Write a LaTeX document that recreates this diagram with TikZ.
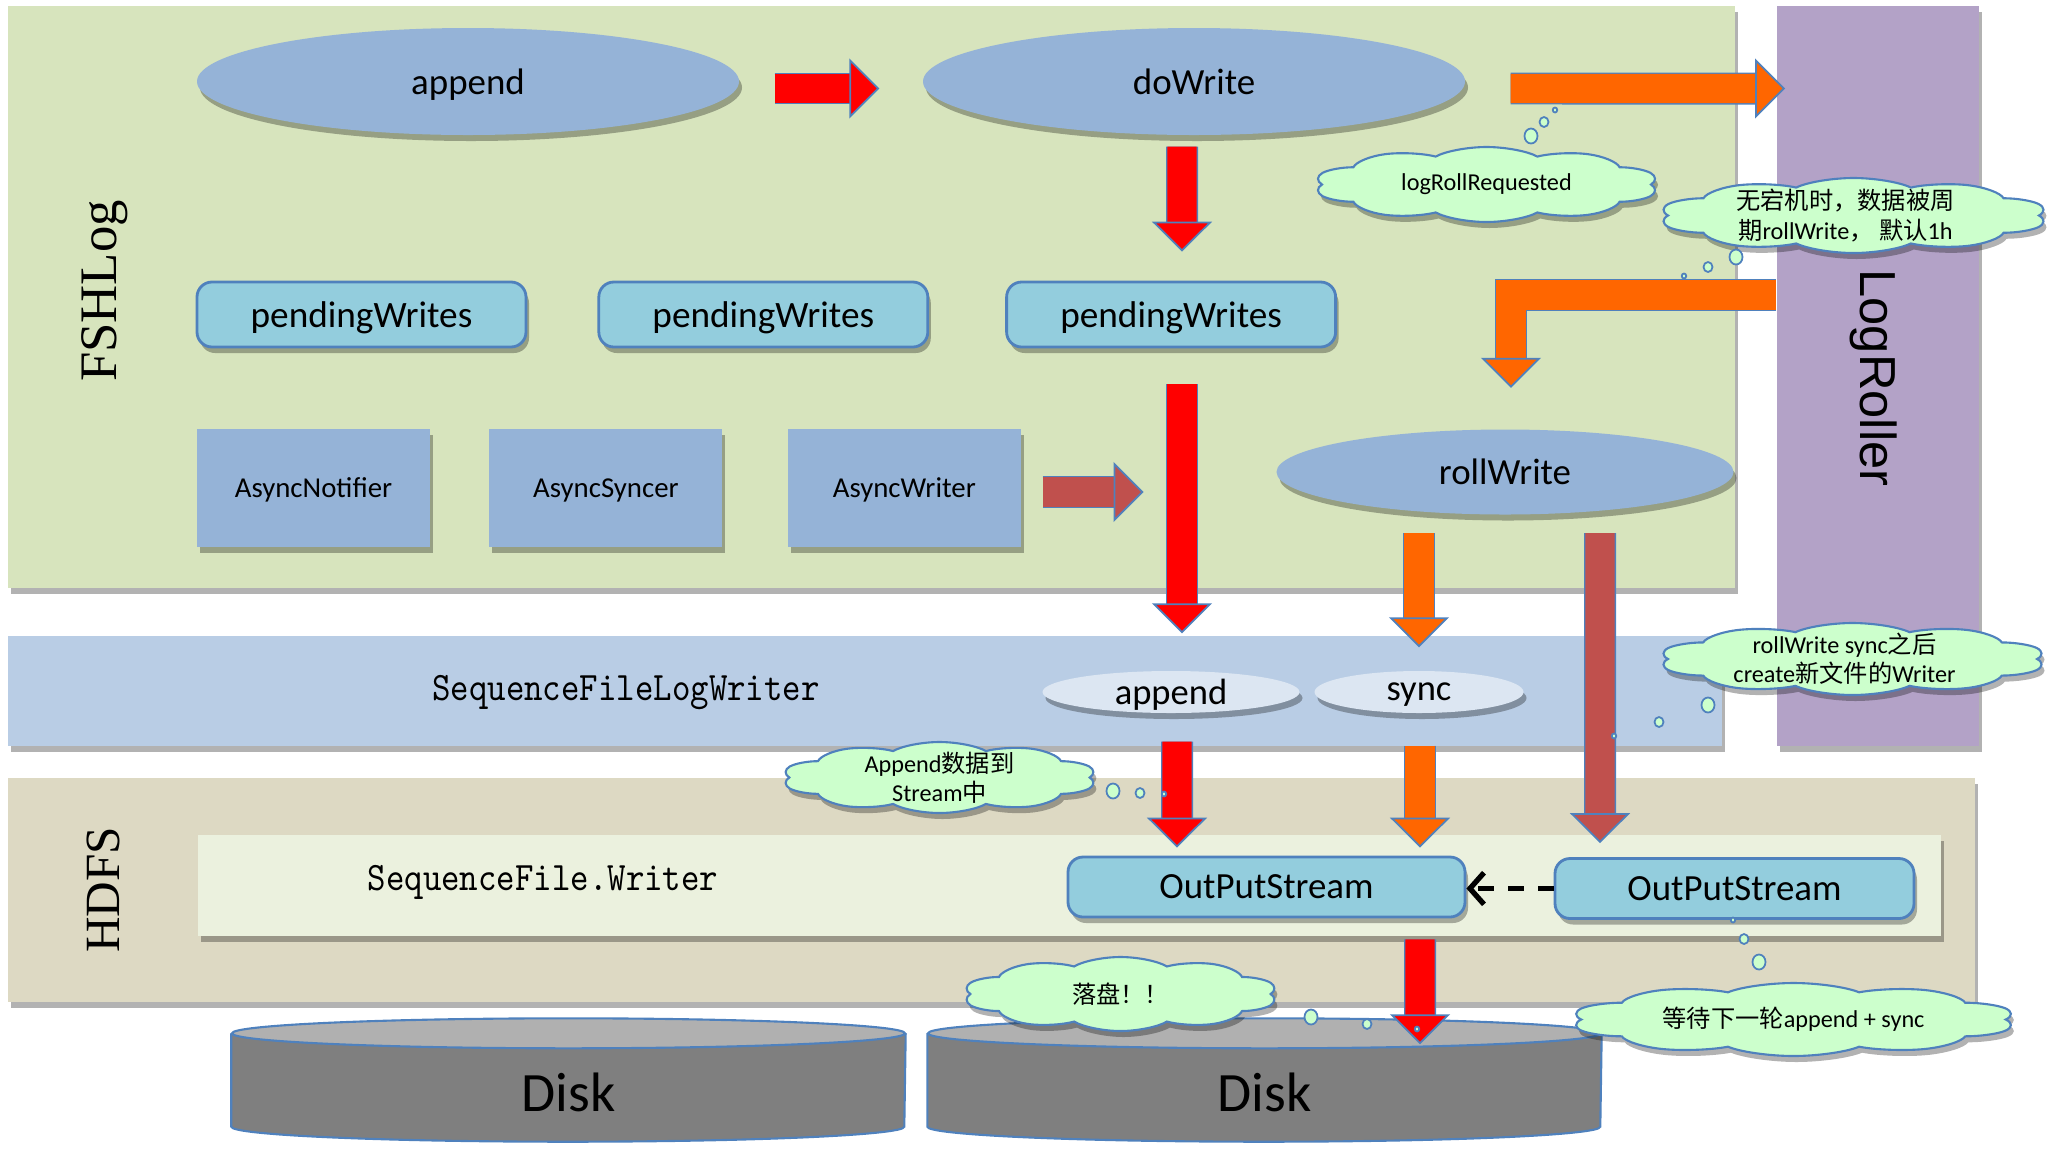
\documentclass[tikz,border=0pt]{standalone}
\usepackage{fontspec}
\setmainfont{Carlito}
\newfontfamily\cjk{Noto Sans CJK SC}
\newfontfamily\serifx{Liberation Serif}
\newfontfamily\arialx{Liberation Sans}
\usetikzlibrary{shapes,shapes.geometric,shapes.symbols,arrows.meta,positioning,calc,shadows}

\definecolor{fshgreen}{HTML}{D7E4BD}
\definecolor{rollpurple}{HTML}{B3A2C7}
\definecolor{seqblue}{HTML}{B9CDE5}
\definecolor{hdfstan}{HTML}{DDD9C3}
\definecolor{writerbg}{HTML}{EBF1DE}
\definecolor{ovalblue}{HTML}{95B3D7}
\definecolor{smallblue}{HTML}{DCE6F2}
\definecolor{queuefill}{HTML}{93CDDD}
\definecolor{edgeblue}{HTML}{4F81BD}
\definecolor{notegreen}{HTML}{CCFFCC}
\definecolor{arrred}{HTML}{FF0000}
\definecolor{arrorange}{HTML}{FF6600}
\definecolor{arrbrown}{HTML}{C0504D}
\definecolor{diskbody}{HTML}{7F7F7F}
\definecolor{disktop}{HTML}{B0B0B0}

\tikzset{
  shadowed/.style={drop shadow={shadow xshift=0.3mm, shadow yshift=-0.6mm, opacity=0.3, fill=black}},
  band/.style={rectangle, inner sep=0, anchor=north west, shadowed},
  oval/.style={ellipse, fill=ovalblue, inner sep=0, text depth=0pt, minimum width=5.42cm, minimum height=1.07cm, font=\fontsize{10.5}{12}\selectfont, shadowed},
  queue/.style={rectangle, rounded corners=1.5mm, draw=edgeblue, line width=0.8pt, fill=queuefill, inner sep=0, text depth=0pt, minimum width=3.29cm, minimum height=0.65cm, font=\fontsize{10.6}{12}\selectfont, shadowed},
  worker/.style={rectangle, fill=ovalblue, inner sep=0, text depth=0pt, minimum width=2.33cm, minimum height=1.18cm, font=\fontsize{8.2}{10}\selectfont, shadowed},
  smalloval/.style={ellipse, fill=smallblue, inner sep=0, text depth=0pt, minimum height=0.42cm, font=\fontsize{10.4}{12}\selectfont, shadowed},
  stream/.style={rectangle, rounded corners=1.5mm, draw=edgeblue, line width=0.8pt, fill=queuefill, inner sep=0, text depth=0pt, minimum height=0.6cm, font=\fontsize{10.5}{12}\selectfont, shadowed},
  disk/.style={rectangle, inner sep=0, minimum width=6.73cm, minimum height=0.92cm},
  disktext/.style={font=\fontsize{15.8}{18}\selectfont},
  note/.style={cloud, cloud puffs=10, cloud puff arc=120, cloud ignores aspect, draw=edgeblue, line width=0.6pt, fill=notegreen, inner sep=0, minimum width=1.5cm, minimum height=1cm, transform shape, shadowed},
  notetext/.style={align=center, font=\fontsize{6.9}{8.3}\selectfont},
  bubble/.style={ellipse, draw=edgeblue, line width=0.5pt, fill=notegreen, inner sep=0},
  blockarrow/.style={draw=#1, line width=8.3pt, -{Triangle[length=8.5pt, width=17pt, fill=#1, color=edgeblue, line width=0.5pt]}, preaction={draw=edgeblue, line width=9.1pt, arrows=-, shorten >=7pt}},
}

\begin{document}
\begin{tikzpicture}
\useasboundingbox (0,0) rectangle (20.55,-11.54);

% 背景层
\node[band, fill=fshgreen, minimum width=17.27cm, minimum height=5.82cm] (fshlog) at (0.07,-0.05) {};
\node[band, fill=rollpurple, minimum width=2.02cm, minimum height=7.40cm] (roller) at (17.76,-0.05) {};
\node[band, fill=seqblue, minimum width=17.14cm, minimum height=1.10cm] (seqwriter) at (0.07,-6.35) {};
\node[band, fill=hdfstan, minimum width=19.67cm, minimum height=2.24cm] (hdfs) at (0.07,-7.77) {};
\node[band, fill=writerbg, minimum width=17.43cm, minimum height=1.01cm] (seqfile) at (1.97,-8.34) {};

% 层名
\node[rotate=90, font=\serifx\fontsize{15}{18}\selectfont] (fshlabel) at (1.05,-2.91) {FSHLog};
\node[rotate=90, font=\serifx\fontsize{14}{17}\selectfont] (hdfslabel) at (1.03,-8.90) {HDFS};
\node[rotate=-90, font=\arialx\fontsize{14.4}{17}\selectfont] (rollerlabel) at (18.74,-3.78) {LogRoller};
\node[font=\ttfamily\fontsize{10}{12}\selectfont] (seqwriterlabel) at (6.26,-6.93) {\scalebox{1}[1.15]{SequenceFileLogWriter}};
\node[font=\ttfamily\fontsize{10}{12}\selectfont] (seqfilelabel) at (5.43,-8.82) {\scalebox{1}[1.15]{SequenceFile.Writer}};

% FSHLog内部
\node[oval] (append) at (4.68,-0.815) {append};
\node[oval] (dowrite) at (11.94,-0.815) {doWrite};
\node[queue] (pending1) at (3.615,-3.145) {pendingWrites};
\node[queue, right=0.70cm of pending1] (pending2) {pendingWrites};
\node[queue, right=0.76cm of pending2] (pending3) {pendingWrites};
\node[worker] (notifier) at (3.135,-4.88) {AsyncNotifier};
\node[worker, right=0.58cm of notifier] (syncer) {AsyncSyncer};
\node[worker, right=0.64cm of syncer] (writer) {AsyncWriter};
\node[oval, minimum width=4.57cm, minimum height=0.85cm] (rollwrite) at (15.05,-4.72) {rollWrite};

% SequenceFileLogWriter
\node[smalloval, minimum width=2.57cm] (sappend) at (11.71,-6.92) {append};
\node[smalloval, minimum width=2.09cm] (ssync) at (14.19,-6.92) {sync};

% HDFS
\node[stream, minimum width=3.97cm] (stream1) at (12.665,-8.87) {OutPutStream};
\node[stream, minimum width=3.59cm] (stream2) at (17.345,-8.885) {OutPutStream};

% 磁盘
\foreach \d/\x in {disk1/5.685, disk2/12.645} {
  \node[disk] (\d) at (\x,-10.80) {};
  \fill[diskbody] (\d.north west) -- (\d.south west) arc[start angle=180, end angle=360, x radius=3.365, y radius=0.15] -- (\d.north east) -- cycle;
  \draw[edgeblue, line width=0.6pt] (\d.north west) -- (\d.south west) arc[start angle=180, end angle=360, x radius=3.365, y radius=0.15] -- (\d.north east);
  \draw[edgeblue, line width=0.6pt, fill=disktop] (\d.north) ellipse [x radius=3.365, y radius=0.15];
  \node[disktext] (\d label) at ([yshift=-1.2mm]\d.center) {Disk};
}

% 箭头
\draw[blockarrow=arrred] ([xshift=3.5mm, yshift=-0.7mm]append.east) -- ([xshift=-4.3mm, yshift=-0.7mm]dowrite.west);
\draw[blockarrow=arrorange] ([xshift=4.5mm, yshift=-0.7mm]dowrite.east) -- ($(dowrite.east -| roller.west)+(0.09,-0.07)$);
\draw[blockarrow=arrred] ([xshift=-1.2mm, yshift=-1.1mm]dowrite.south) -- ($(pending3.north -| dowrite.south)+(-0.12,0.29)$);
\draw[blockarrow=arrred] ($(pending3.south -| dowrite.south)+(-0.12,-0.36)$) -- ($(sappend.north -| dowrite.south)+(-0.12,0.37)$);
\draw[blockarrow=arrbrown] ([xshift=2.1mm, yshift=-0.4mm]writer.east) -- ([xshift=12.2mm, yshift=-0.4mm]writer.east);
\draw[blockarrow=arrorange] ([yshift=-2.9cm]roller.north west) -| ([xshift=0.6mm, yshift=4.1mm]rollwrite.north);
\draw[blockarrow=arrorange] ($(ssync.north |- rollwrite.south)+(0,-0.18)$) -- ([yshift=2.3mm]ssync.north);
\draw[blockarrow=arrbrown] ($(rollwrite.south)+(0.95,-0.18)$) -- ($(stream2.north)+(-1.345,0.14)$);
\draw[blockarrow=arrred] ($(sappend.south)+(0.06,-0.28)$) -- ($(stream1.north)+(-0.895,0.08)$);
\draw[blockarrow=arrorange] ($(ssync.south)+(0.01,-0.32)$) -- ($(ssync.south |- stream1.north)+(0.01,0.08)$);
\draw[blockarrow=arrred] ($(stream1.south)+(1.535,-0.21)$) -- ($(disk2.north)+(1.555,-0.11)$);
\draw[line width=1.5pt, dash pattern=on 4.5pt off 4pt, -{Straight Barb[length=4pt, width=9pt]}] (stream2.west) -- (stream2.west -| stream1.east);

% 注释云
\node[note, shift={(14.865,-1.845)}, xscale=2.3, yscale=0.75] (rollreq) at (0,0) {};
\node[notetext] at (rollreq.center) {logRollRequested};
\node[bubble, minimum width=1.3mm, minimum height=1.5mm] (rollreq1) at (15.31,-1.36) {};
\node[bubble, minimum width=0.9mm, minimum height=1.0mm] (rollreq2) at (15.44,-1.22) {};
\node[bubble, minimum width=0.45mm, minimum height=0.5mm] (rollreq3) at (15.55,-1.10) {};

\node[note, shift={(18.535,-2.155)}, xscale=2.593, yscale=0.75] (period) at (0,0) {};
\node[notetext] at ([xshift=-0.08cm]period.center) {{\cjk 无宕机时，数据被周}\\{\cjk 期}rollWrite{\cjk ，} {\cjk 默认}1h};
\node[bubble, minimum width=1.3mm, minimum height=1.5mm] (period1) at (17.36,-2.57) {};
\node[bubble, minimum width=0.9mm, minimum height=1.0mm] (period2) at (17.08,-2.67) {};
\node[bubble, minimum width=0.45mm, minimum height=0.5mm] (period3) at (16.84,-2.76) {};

\node[note, shift={(18.525,-6.59)}, xscale=2.58, yscale=0.72] (newwriter) at (0,0) {};
\node[notetext] at ([xshift=-0.08cm]newwriter.center) {rollWrite sync{\cjk 之后}\\create{\cjk 新文件的}Writer};
\node[bubble, minimum width=1.3mm, minimum height=1.5mm] (newwriter1) at (17.08,-7.05) {};
\node[bubble, minimum width=0.9mm, minimum height=1.0mm] (newwriter2) at (16.59,-7.22) {};
\node[bubble, minimum width=0.45mm, minimum height=0.5mm] (newwriter3) at (16.14,-7.36) {};

\node[note, shift={(9.395,-7.775)}, xscale=2.1, yscale=0.71] (appendnote) at (0,0) {};
\node[notetext] at (appendnote.center) {Append{\cjk 数据到}\\Stream{\cjk 中}};
\node[bubble, minimum width=1.3mm, minimum height=1.5mm] (appendnote1) at (11.13,-7.91) {};
\node[bubble, minimum width=0.9mm, minimum height=1.0mm] (appendnote2) at (11.40,-7.93) {};
\node[bubble, minimum width=0.45mm, minimum height=0.5mm] (appendnote3) at (11.64,-7.94) {};

\node[note, shift={(11.205,-9.94)}, xscale=2.1, yscale=0.74] (flush) at (0,0) {};
\node[notetext] at (flush.center) {{\cjk 落盘！！}};
\node[bubble, minimum width=1.3mm, minimum height=1.5mm] (flush1) at (13.11,-10.17) {};
\node[bubble, minimum width=0.9mm, minimum height=1.0mm] (flush2) at (13.67,-10.24) {};
\node[bubble, minimum width=0.45mm, minimum height=0.5mm] (flush3) at (14.17,-10.29) {};

\node[note, shift={(17.935,-10.195)}, xscale=2.967, yscale=0.73] (waitnote) at (0,0) {};
\node[notetext] at (waitnote.center) {{\cjk 等待下一轮}append + sync};
\node[bubble, minimum width=1.3mm, minimum height=1.5mm] (waitnote1) at (17.59,-9.62) {};
\node[bubble, minimum width=0.9mm, minimum height=1.0mm] (waitnote2) at (17.44,-9.39) {};
\node[bubble, minimum width=0.45mm, minimum height=0.5mm] (waitnote3) at (17.33,-9.20) {};
\end{tikzpicture}
\end{document}
